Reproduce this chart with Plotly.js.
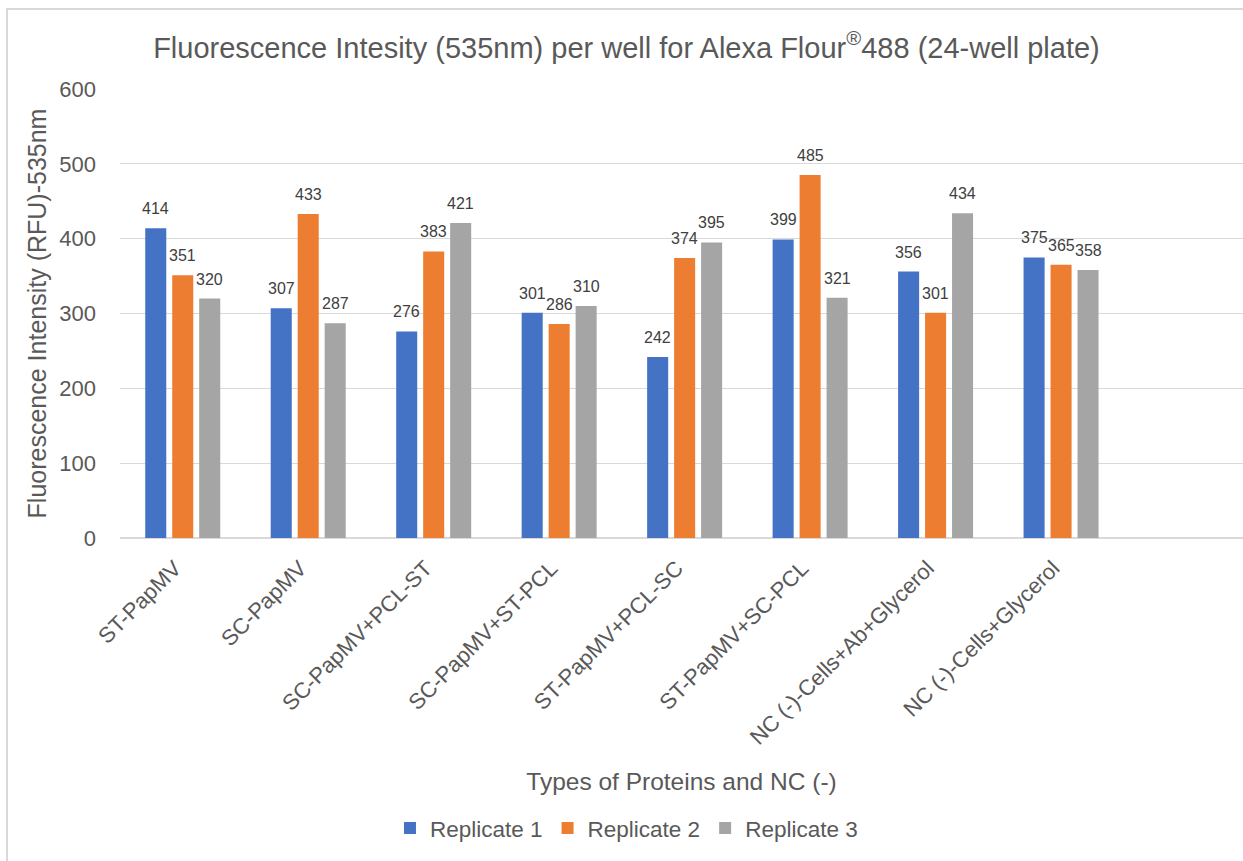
<!DOCTYPE html>
<html>
<head>
<meta charset="utf-8">
<script src="https://cdn.plot.ly/plotly-3.0.1.min.js"></script>
<style>
  html, body { margin: 0; padding: 0; background: #ffffff; overflow: hidden; }
  #frame { position: absolute; left: 6px; top: 8px; width: 1300px; height: 900px;
           border-left: 2px solid #d9d9d9; border-top: 2px solid #d9d9d9; pointer-events: none; }
  #chart { position: absolute; left: 0; top: 0; width: 1243px; height: 861px; }
</style>
</head>
<body>
<div id="chart"></div>
<div id="frame"></div>
<script>
// Sample groups along the x axis
const categories = [
  "ST-PapMV",
  "SC-PapMV",
  "SC-PapMV+PCL-ST",
  "SC-PapMV+ST-PCL",
  "ST-PapMV+PCL-SC",
  "ST-PapMV+SC-PCL",
  "NC (-)-Cells+Ab+Glycerol",
  "NC (-)-Cells+Glycerol"
];

// Fluorescence readings (RFU) per replicate
const replicate1 = [414, 307, 276, 301, 242, 399, 356, 375];
const replicate2 = [351, 433, 383, 286, 374, 485, 301, 365];
const replicate3 = [320, 287, 421, 310, 395, 321, 434, 358];

const seriesNames = ["Replicate 1", "Replicate 2", "Replicate 3"];
const seriesValues = [replicate1, replicate2, replicate3];
const seriesColors = ["#4472c4", "#ed7d31", "#a5a5a5"];

const FONT = "Liberation Sans, Arial, sans-serif";
const TEXT_GREY = "#595959";

// pixel offset of each replicate's bar from its group centre
const SLOT_PX = 27;

const traces = seriesValues.map((vals, i) => ({
  type: "bar",
  name: seriesNames[i],
  x: categories,
  y: vals,
  marker: { color: seriesColors[i] },
  hoverinfo: "x+y+name"
}));

// value labels sitting above each bar
const valueLabels = [];
seriesValues.forEach((vals, i) => {
  vals.forEach((v, j) => {
    valueLabels.push({
      x: categories[j],
      y: v,
      xref: "x",
      yref: "y",
      text: String(v),
      showarrow: false,
      xanchor: "center",
      yanchor: "bottom",
      xshift: (i - 1) * SLOT_PX,
      yshift: 9,
      font: { family: FONT, size: 16, color: "#404040" }
    });
  });
});

const layout = {
  width: 1243,
  height: 861,
  paper_bgcolor: "#ffffff",
  plot_bgcolor: "#ffffff",
  margin: { l: 120, r: 0, t: 89, b: 323 },
  barmode: "group",
  bargap: 0.355,
  bargroupgap: 0.22,
  title: {
    text: "Fluorescence Intesity (535nm) per well for Alexa Flour<sup>®</sup>488 (24-well plate)",
    font: { family: FONT, size: 29, color: TEXT_GREY },
    x: 0.504,
    xanchor: "center",
    y: 0.945,
    yanchor: "middle"
  },
  xaxis: {
    type: "category",
    range: [-0.5, 8.45],
    tickangle: -45,
    tickfont: { family: FONT, size: 22, color: TEXT_GREY },
    ticklabelstandoff: 12,
    ticklabelshift: -8,
    showgrid: false,
    showline: false,
    zeroline: false,
    ticks: "",
    automargin: false,
    title: {
      text: "Types of Proteins and NC (-)",
      font: { family: FONT, size: 24.5, color: TEXT_GREY },
      standoff: 24
    }
  },
  yaxis: {
    range: [0, 600],
    dtick: 100,
    tickfont: { family: FONT, size: 22, color: TEXT_GREY },
    ticklabelstandoff: 23,
    gridcolor: "#d9d9d9",
    gridwidth: 1.3,
    zeroline: true,
    zerolinecolor: "#d9d9d9",
    zerolinewidth: 2,
    showline: false,
    ticks: "",
    automargin: false,
    title: {
      text: "Fluorescence Intensity (RFU)-535nm",
      font: { family: FONT, size: 25, color: TEXT_GREY },
      standoff: 5
    }
  },
  legend: {
    orientation: "h",
    xref: "container",
    yref: "container",
    x: 0.504,
    xanchor: "center",
    y: 0.038,
    yanchor: "middle",
    font: { family: FONT, size: 22.5, color: TEXT_GREY },
    itemwidth: 30,
    tracegroupgap: 0
  },
  annotations: valueLabels,
  showlegend: true
};

Plotly.newPlot("chart", traces, layout, { displayModeBar: false, staticPlot: true });
</script>
</body>
</html>
